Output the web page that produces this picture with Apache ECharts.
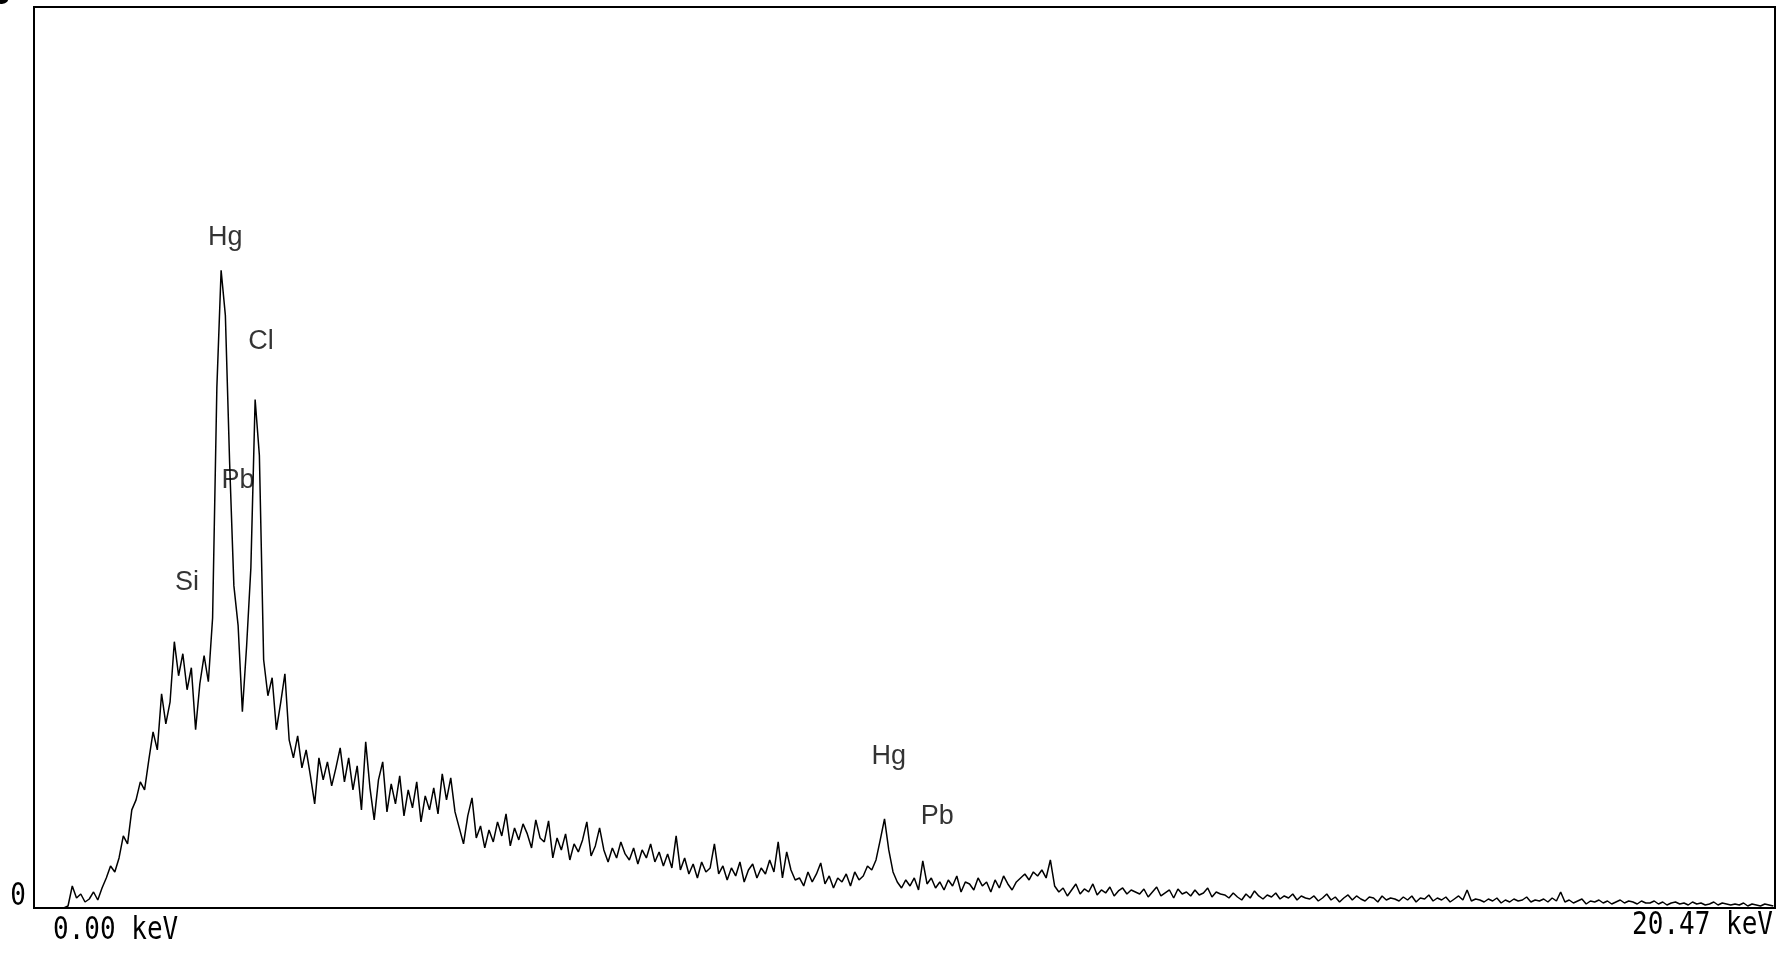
<!DOCTYPE html>
<html>
<head>
<meta charset="utf-8">
<script src="https://cdn.jsdelivr.net/npm/echarts@6/dist/echarts.min.js"></script>
<style>
  html, body { margin: 0; padding: 0; background: #fff; }
  #chart { width: 1786px; height: 953px; }
</style>
</head>
<body>
<div id="chart"></div>
<script>
// spectrum, one value every 0.05 keV, counts
const stepKeV = 0.05
const countsLow = [
  0, 0, 0, 0, 0, 0, 0, 0, 2, 22, 10, 14, 6, 9, 16, 8, 20, 30, 42, 36,
  50, 72, 64, 98, 108, 126, 118, 148, 176, 158, 214, 184, 206, 266, 232, 254, 218, 240, 178, 224,
  252, 226, 290, 520, 637, 592, 445, 322, 282, 196, 262, 340, 508, 452, 248, 212, 230, 178, 205, 234,
  168, 150, 172, 140, 158, 132, 104, 150, 128, 146, 122, 140, 160, 126, 150, 118, 142, 98, 166, 120,
]
const countsMid = [
  88, 128, 146, 96, 124, 104, 132, 92, 118, 100, 126, 86, 112, 98, 120, 94, 134, 108, 130, 96,
  80, 64, 92, 110, 70, 82, 60, 78, 66, 86, 72, 94, 62, 80, 68, 84, 74, 60, 88, 70,
  66, 87, 50, 70, 58, 74, 48, 64, 56, 68, 86, 52, 62, 80, 58, 46, 60, 50, 66, 54,
  48, 60, 44, 58, 50, 64, 46, 56, 42, 54, 40, 72, 38, 50, 34, 44, 30, 46, 36, 40,
  64, 34, 42, 28, 40, 32, 46, 26, 38, 44, 30, 40, 34, 48, 36, 66, 30, 56, 38, 28,
  30, 22, 36, 26, 34, 45, 24, 32, 20, 30, 26, 34, 22, 36, 28, 32, 42, 38, 48, 68,
]
const countsHigh = [
  89, 58, 36, 26, 20, 28, 22, 30, 18, 47, 24, 30, 20, 26, 18, 28, 22, 32, 16, 26,
  24, 18, 30, 22, 26, 16, 28, 20, 32, 24, 18, 26, 30, 34, 28, 36, 32, 38, 30, 48,
  22, 16, 20, 12, 18, 24, 14, 19, 16, 24, 13, 18, 15, 21, 12, 17, 20, 14, 18, 16,
  14, 19, 11, 16, 21, 12, 15, 18, 10, 19, 14, 16, 12, 18, 13, 15, 20, 11, 16, 14,
  13, 10, 15, 11, 8, 14, 10, 17, 12, 9, 13, 11, 15, 9, 12, 10, 14, 8, 12, 10,
  9, 12, 7, 10, 14, 8, 11, 6, 10, 13, 8, 12, 9, 7, 11, 10, 6, 12, 8, 10,
  9, 7, 11, 8, 12, 6, 10, 9, 13, 7, 10, 8, 11, 6, 9, 12, 8, 18, 7, 9,
  8, 6, 9, 7, 10, 5, 8, 6, 9, 7, 8, 11, 6, 8, 7, 9, 6, 10, 7, 16,
  6, 8, 5, 7, 9, 4, 7, 6, 8, 5, 7, 4, 6, 8, 5, 7, 6, 4, 7, 5,
  5, 7, 4, 6, 3, 5, 6, 4, 5, 3, 6, 4, 5, 3, 4, 6, 3, 5, 4, 3,
  4, 3, 5, 2, 4, 3, 2, 4, 3, 2,
]

// element labels: name, energy (keV), height (counts)
const peakNames  = ['Hg', 'Cl', 'Pb', 'Si', 'Hg', 'Pb']
const peakKeV    = [2.25, 2.67, 2.40, 1.80, 10.05, 10.62]
const peakHeight = [670, 566, 427, 325, 151, 91]

const xMin = 0, xMax = 20.47, yMax = 900
const tickLabels = ['0.00 keV', '20.47 keV']
const yTickLabel = '0'

const counts = [...countsLow, ...countsMid, ...countsHigh]
const spectrum = counts.map((c, i) => [+(i * stepKeV).toFixed(2), c])

const grid = { left: 34, right: 11, top: 7, bottom: 45 }
const monoFont = '26px "DejaVu Sans Mono", monospace'

const chart = echarts.init(document.getElementById('chart'), null, { renderer: 'canvas' })

chart.setOption({
  animation: false,
  backgroundColor: '#fff',
  grid: {
    ...grid,
    show: true,
    borderColor: '#000',
    borderWidth: 2,
    backgroundColor: 'transparent',
  },
  xAxis: {
    type: 'value',
    min: xMin,
    max: xMax,
    axisLine: { show: true, lineStyle: { color: '#000', width: 2 } },
    axisTick: { show: false },
    axisLabel: { show: false },
    splitLine: { show: false },
  },
  yAxis: {
    type: 'value',
    min: 0,
    max: yMax,
    axisLine: { show: false },
    axisTick: { show: false },
    axisLabel: { show: false },
    splitLine: { show: false },
  },
  series: [
    {
      type: 'line',
      data: spectrum,
      showSymbol: false,
      sampling: 'none',
      lineStyle: { color: '#000', width: 1.5 },
    },
    {
      type: 'scatter',
      data: peakNames.map((n, i) => ({ name: n, value: [peakKeV[i], peakHeight[i]] })),
      symbolSize: 0,
      silent: true,
      label: {
        show: true,
        position: 'inside',
        formatter: '{b}',
        color: '#000',
        fontFamily: '"Liberation Sans", Arial, sans-serif',
        fontSize: 27,
      },
    },
  ],
})

// tick labels drawn in a tall narrow printer-like style
const x0 = chart.convertToPixel({ xAxisIndex: 0 }, xMin)
const x1 = chart.convertToPixel({ xAxisIndex: 0 }, xMax)
const yBase = chart.convertToPixel({ yAxisIndex: 0 }, 0)

chart.setOption({
  graphic: [
    {
      type: 'text', x: x0 + 19, y: yBase + 23, scaleY: 1.25,
      style: { text: tickLabels[0], font: monoFont, fill: '#000', textAlign: 'left', textVerticalAlign: 'middle' },
    },
    {
      type: 'text', x: x1 - 2, y: yBase + 18, scaleY: 1.25,
      style: { text: tickLabels[1], font: monoFont, fill: '#000', textAlign: 'right', textVerticalAlign: 'middle' },
    },
    {
      type: 'text', x: x0 - 16, y: yBase - 11, scaleY: 1.25,
      style: { text: yTickLabel, font: monoFont, fill: '#000', textAlign: 'center', textVerticalAlign: 'middle' },
    },
    {
      type: 'text', x: 3, y: -4, scaleY: 1.25,
      style: { text: '5', font: 'bold 26px "DejaVu Sans Mono", monospace', fill: '#000', textAlign: 'center', textVerticalAlign: 'middle' },
    },
  ],
})
</script>
</body>
</html>
